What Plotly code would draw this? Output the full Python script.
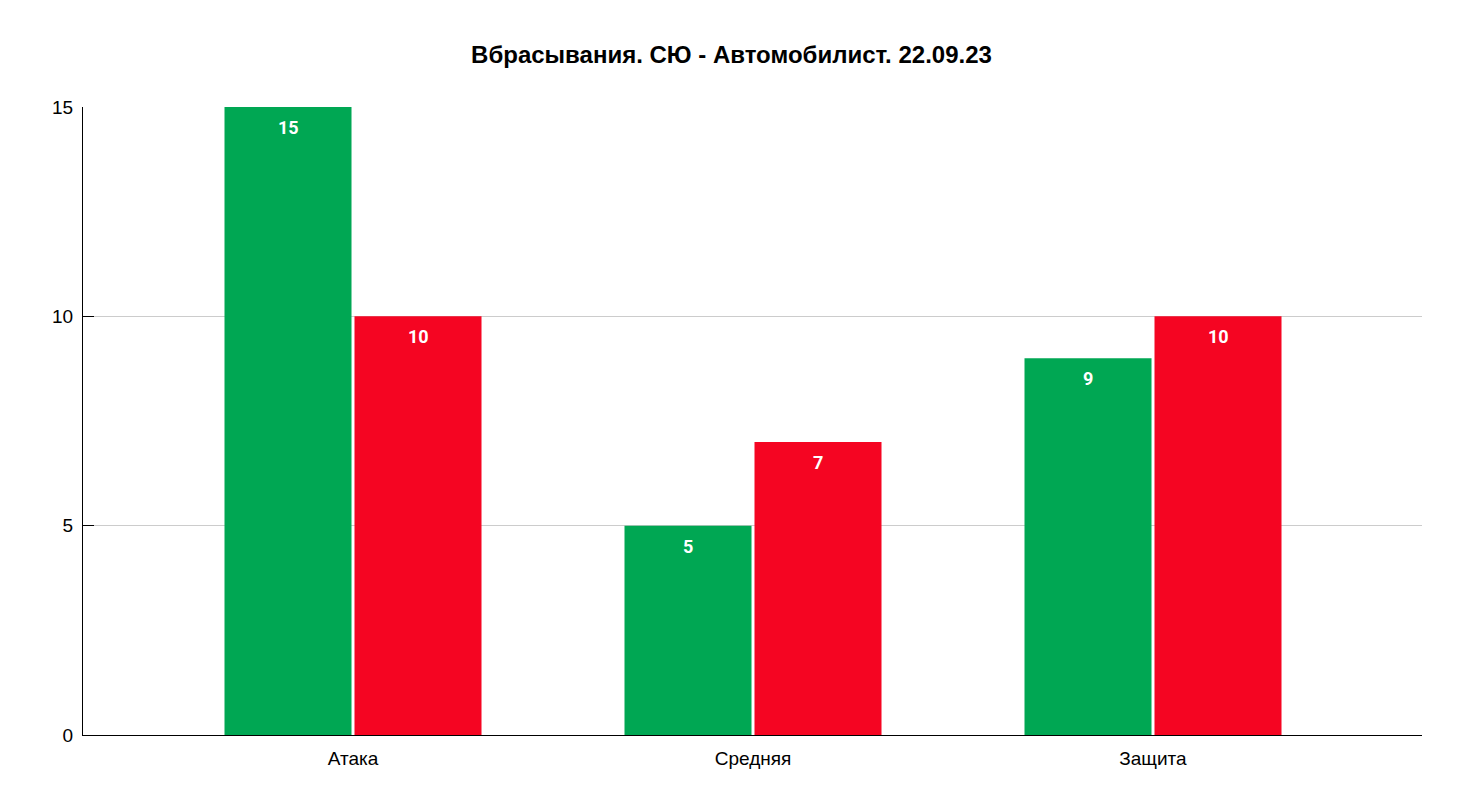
import plotly.graph_objects as go

categories = ["Атака", "Средняя", "Защита"]
team_a = [15, 5, 9]     # СЮ
team_b = [10, 7, 10]    # Автомобилист
y_ticks = [0, 5, 10, 15]
title_text = "Вбрасывания. СЮ - Автомобилист. 22.09.23"

green = "#00a753"
red = "#f50522"

fig = go.Figure()
fig.add_trace(go.Bar(x=categories, y=team_a, name="СЮ", marker_color=green, marker_line_width=0))
fig.add_trace(go.Bar(x=categories, y=team_b, name="Автомобилист", marker_color=red, marker_line_width=0))

annotations = []
for i, c in enumerate(categories):
    for vals, shift in ((team_a, -65), (team_b, 65)):
        annotations.append(dict(
            x=c, y=vals[i], xref="x", yref="y", text=str(vals[i]),
            showarrow=False, xshift=shift, yanchor="top", yshift=-8,
            font=dict(family="Roboto", size=18, color="white", weight="bold"),
        ))

fig.update_layout(
    width=1463, height=810,
    margin=dict(l=83, r=41, t=107, b=75),
    paper_bgcolor="white", plot_bgcolor="white",
    showlegend=False,
    barmode="group", bargap=0.35, bargroupgap=0.023,
    title=dict(text=title_text, x=0.5, xanchor="center", y=0.932, yanchor="middle",
               font=dict(family="Liberation Sans", size=24, color="black", weight="bold")),
    annotations=annotations,
    font=dict(family="Liberation Sans", size=18, color="black"),
)
fig.update_xaxes(
    range=[-0.675, 2.6725], showline=True, linecolor="black", linewidth=1,
    showgrid=False, ticks="", ticklabelstandoff=6,
    tickfont=dict(family="Liberation Sans", size=19, color="black"),
)
fig.update_yaxes(
    range=[0, 15], tickvals=y_ticks, showline=True, linecolor="black", linewidth=1,
    showgrid=True, gridcolor="#cccccc", gridwidth=1, zeroline=False,
    ticks="inside", ticklen=11, tickcolor="black", ticklabelstandoff=5,
    tickfont=dict(family="Liberation Sans", size=19, color="black"),
)

fig.write_html("out.html")
